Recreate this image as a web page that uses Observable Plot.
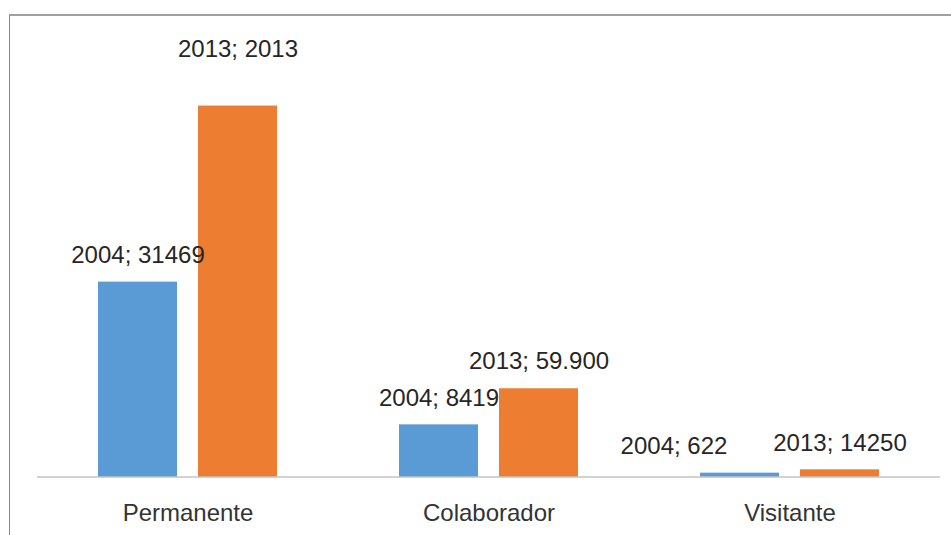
<!DOCTYPE html>
<html>
<head>
<meta charset="utf-8">
<script src="https://cdn.jsdelivr.net/npm/d3@7"></script>
<script src="https://cdn.jsdelivr.net/npm/@observablehq/plot@0.6"></script>
<style>
  html, body { margin: 0; padding: 0; background: #fff; overflow: hidden; width: 951px; height: 535px; }
  #wrap { position: relative; width: 951px; height: 535px; }
  #frame { position: absolute; left: 9px; top: 14px; width: 1000px; height: 1000px;
           border-left: 1px solid #8c8c8c; border-top: 2px solid #a0a0a0; box-sizing: border-box; pointer-events: none; }
  #chart svg { display: block; }
</style>
</head>
<body>
<div id="wrap">
  <div id="chart"></div>
  <div id="frame"></div>
</div>
<script>
const categories = ["Permanente", "Colaborador", "Visitante"];
const years = ["2004", "2013"];
const values2004 = [31469, 8419, 622];
const values2013 = [59900, 14250, 1160];
const labels2004 = ["2004; 31469", "2004; 8419", "2004; 622"];
const labels2013 = ["2013; 2013", "2013; 59.900", "2013; 14250"];
const colors = ["#5B9BD5", "#ED7D31"];

const rows = categories.flatMap((c, i) => [
  {category: c, year: years[0], value: values2004[i], label: labels2004[i]},
  {category: c, year: years[1], value: values2013[i], label: labels2013[i]}
]);

const isHigh = d => d.category === "Permanente" && d.year === "2013";
const isShifted = d => d.category === "Visitante" && d.year === "2004";
const textOpts = {fx: "category", x: "year", y: "value", text: "label",
  fontSize: 24, fill: "#262626", textAnchor: "middle", lineAnchor: "middle"};

const chart = Plot.plot({
  width: 951,
  height: 535,
  marginLeft: 36,
  marginRight: 11,
  marginTop: 43,
  marginBottom: 58.5,
  style: {fontFamily: "'Liberation Sans', Arial, sans-serif", color: "#333", background: "transparent"},
  fx: {domain: categories, padding: 0, label: null},
  x: {domain: years, paddingInner: 0.208, paddingOuter: 0.596, axis: null},
  y: {domain: [0, 70000], axis: null},
  color: {domain: years, range: colors},
  marks: [
    Plot.barY(rows, {fx: "category", x: "year", y: "value", fill: "year"}),
    Plot.ruleY([0], {stroke: "#a6a6a6", strokeWidth: 1.2}),
    Plot.text(rows.filter(d => !isHigh(d) && !isShifted(d)), {...textOpts, dy: -27}),
    Plot.text(rows.filter(isHigh), {...textOpts, dy: -57}),
    Plot.text(rows.filter(isShifted), {...textOpts, dy: -27, dx: -66}),
    Plot.axisFx({anchor: "bottom", tickSize: 0, tickPadding: 26.5, fontSize: 24, label: null, fill: "#333"})
  ]
});
document.getElementById("chart").appendChild(chart);
</script>
</body>
</html>
